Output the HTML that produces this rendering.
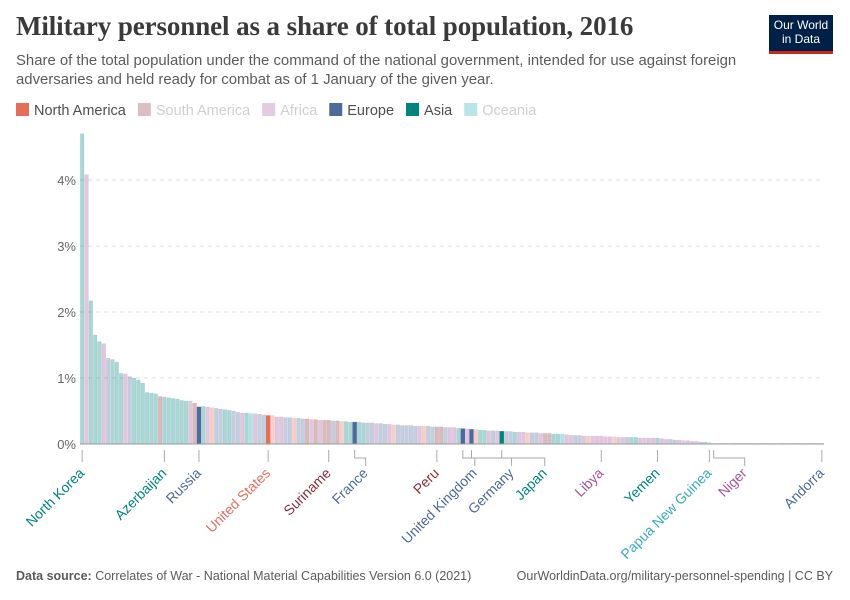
<!DOCTYPE html>
<html><head><meta charset="utf-8"><style>
body{margin:0;width:850px;height:600px;background:#fff;font-family:"Liberation Sans",sans-serif;overflow:hidden;position:relative}
.t{position:absolute;left:16px;top:11px;font-family:"Liberation Serif",serif;font-size:27px;font-weight:bold;color:#3a3a3a;margin:0;letter-spacing:-0.1px}
.s{position:absolute;left:16px;top:52px;font-size:14.9px;line-height:19px;color:#5b5b5b;width:745px;margin:0}
.logo{position:absolute;left:769px;top:15px;width:64px;height:33px;background:#002147;border-bottom:3px solid #ce261e;color:#fff;font-size:12px;line-height:14px;text-align:center;padding-top:3px;box-sizing:content-box}
.foot{position:absolute;top:569px;font-size:12.5px;color:#5b5b5b}
</style></head><body>
<h1 class="t">Military personnel as a share of total population, 2016</h1>
<p class="s">Share of the total population under the command of the national government, intended for use against foreign adversaries and held ready for combat as of 1 January of the given year.</p>
<div class="logo">Our World<br>in Data</div>
<svg id="chart" width="850" height="600" style="position:absolute;left:0;top:0"></svg>
<div class="foot" style="left:16px"><b>Data source:</b> Correlates of War - National Material Capabilities Version 6.0 (2021)</div>
<div class="foot" style="right:17px">OurWorldinData.org/military-personnel-spending | CC BY</div>
<script>
const values=[4.7,4.08,2.17,1.65,1.55,1.52,1.30,1.28,1.24,1.07,1.06,1.02,1.00,0.97,0.92,0.78,0.77,0.76,0.72,0.71,0.70,0.69,0.68,0.66,0.65,0.65,0.62,0.56,0.57,0.56,
0.55,0.54,0.53,0.52,0.51,0.50,0.48,0.47,0.47,0.46,0.46,0.45,0.44,0.43,
0.43,0.41,0.41,0.40,0.40,0.39,0.39,0.38,0.38,0.37,0.37,0.36,0.36,0.36,0.35,0.35,0.34,0.34,0.33,0.33,
0.33,0.32,0.32,0.32,0.31,0.31,0.30,0.30,0.29,0.29,0.28,0.28,0.28,0.27,0.27,0.27,0.27,0.26,0.26,0.26,0.25,0.25,0.25,0.24,0.23,0.23,0.22,
0.22,0.21,0.21,0.20,0.20,0.20,0.19,0.19,0.19,0.18,0.18,0.18,0.17,0.17,0.17,0.16,0.16,0.16,0.15,0.15,0.15,0.14,0.13,0.13,0.13,0.12,0.12,0.12,0.12,0.12,
0.11,0.11,0.11,0.10,0.10,0.10,0.10,0.10,0.09,0.09,0.09,0.09,0.09,0.08,0.07,0.07,0.06,0.06,0.05,0.05,0.04,0.04,0.03,0.03,0.02,
0.01,0.01,0.01,0.01,0.01,0.01,0.01,0.01,0.01,0.01,0.01,0.01,0.01,0.01,0.01,0.01,0.01,0.01,0.01,0.01,0.01,0.01,0.01,0.01,0.01,0.01];
const regions=("AFAAAFEAAAFEAAAAAASAAAAAAFSEAF"+"NEEAAEEFAOFEEN"+"NFFEENEESFSFSSESNAAE"+"AAEEFEEFNEEEEEFNEESSEFFAEFE"+"NAAFEFAEEAFFNEEFSSAAOFFEEFNFFF"+"FFNFFEAAFFFFAFFEEFFFFFEEO"+"FFEFNSFEESEFFEAFSNFEESFFSE").split("");
const highlighted=[27,43,63,88,90,97];
const labelNames=["North Korea","Azerbaijan","Russia","United States","Suriname","France","Peru","United Kingdom","Germany","Japan","Libya","Yemen","Papua New Guinea","Niger","Andorra"];
const labelIdx=[0,19,27,43,57,63,82,88,90,97,120,133,145,146,171];
const labelShift=[0,0,0,0,0,11,0,12,40,43,0,0,0,31,0];
const yTicks=[0,1,2,3,4];
const legendNames=["North America","South America","Africa","Europe","Asia","Oceania"];
const legendKeys=["N","S","F","E","A","O"];
const legendFaded=[false,true,true,false,false,true];
const col={N:"#e56e5a",S:"#883039",F:"#a2559c",E:"#4c6a9c",A:"#00847e",O:"#18a4b4"};
const labelCol={N:"#e56e5a",S:"#883039",F:"#a2559c",E:"#4c6a9c",A:"#00847e",O:"#38aaba"};
const svg=document.getElementById("chart"),NS="http://www.w3.org/2000/svg";
const x0=80,x1=824,y0=444,pxPer=66;
const bw=(x1-x0)/values.length;
const X=i=>x0+i*bw, Y=v=>y0-v*pxPer;
function mk(t,a){const e=document.createElementNS(NS,t);for(const k in a)e.setAttribute(k,a[k]);svg.appendChild(e);return e;}
let lx=16;
legendNames.forEach((n,i)=>{
  const r=mk("rect",{x:lx,y:103,width:13,height:13,fill:col[legendKeys[i]],"fill-opacity":legendFaded[i]?0.3:1});
  
  
  const t=mk("text",{x:lx+18,y:115,"font-size":14.5,fill:legendFaded[i]?"#cfcfcf":"#4e4e4e"});
  t.textContent=n;
  
  
  lx+=18+t.getComputedTextLength()+12;
});
yTicks.forEach(v=>{
  if(v>0){const g=mk("line",{x1:x0,x2:x1,y1:Y(v),y2:Y(v),stroke:"#ddd","stroke-dasharray":"4,4"});
  
  }
  const t=mk("text",{x:76,y:Y(v)+5,"font-size":13,fill:"#666","text-anchor":"end"});
  t.textContent=v+"%";
  
  
});
values.forEach((v,i)=>{
  const r=regions[i],hl=highlighted.includes(i);
  const b=mk("rect",{x:X(i)+0.3,y:Y(v),width:bw-0.6,height:v*pxPer,fill:col[r],"fill-opacity":hl?1:0.33,stroke:col[r],"stroke-opacity":hl?1:0.15,"stroke-width":0.6});
  
  
});
const ax=mk("line",{x1:x0,x2:x1,y1:y0,y2:y0,stroke:"#999","stroke-width":1});


labelIdx.forEach((idx,k)=>{
  const cx=X(idx)+bw/2, tx=cx+labelShift[k];
  let d;
  if(labelShift[k]){d=`M${cx},450 V458 H${tx} V466`;}else{d=`M${cx},450 V462`;}
  const p=mk("path",{d:d,fill:"none",stroke:"#aaa","stroke-width":1});
  
  
  const t=mk("text",{x:tx+3,y:474,"font-size":14,fill:labelCol[regions[idx]],"text-anchor":"end",transform:`rotate(-45 ${tx+3} 474)`});
  t.textContent=labelNames[k];
  
  
});
</script>
</body></html>
